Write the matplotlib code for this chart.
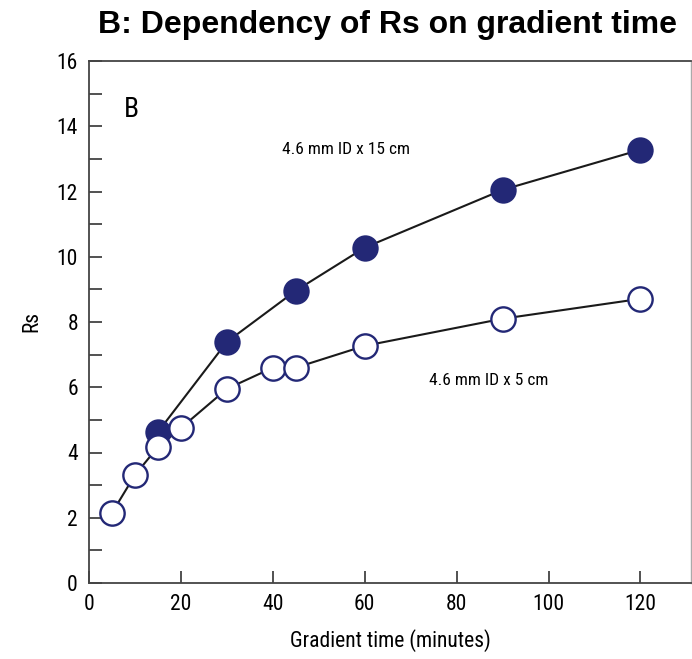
import matplotlib
matplotlib.use("Agg")
import matplotlib.pyplot as plt
from matplotlib.ticker import MultipleLocator

# resolution vs gradient time, two column lengths
t_long = [15, 30, 45, 60, 90, 120]
rs_long = [4.63, 7.39, 8.96, 10.28, 12.05, 13.28]
t_short = [5, 10, 15, 20, 30, 40, 45, 60, 90, 120]
rs_short = [2.15, 3.31, 4.17, 4.75, 5.95, 6.6, 6.6, 7.27, 8.1, 8.71]

navy = "#232876"
narrow = ["Liberation Sans Narrow", "DejaVu Sans Condensed", "Roboto Condensed",
          "Noto Sans Condensed", "Liberation Sans"]

fig = plt.figure(figsize=(6.92, 6.59), dpi=100)
ax = fig.add_axes([89 / 692, 1 - 583 / 659, 602 / 692, 522 / 659])

ax.plot(t_long, rs_long, "-", color="#1a1a1a", lw=1.5, zorder=2)
ax.plot(t_long, rs_long, "o", ms=17.5, mfc=navy, mec=navy, mew=1.5, zorder=3)
ax.plot(t_short, rs_short, "-", color="#1a1a1a", lw=1.5, zorder=2)
ax.plot(t_short, rs_short, "o", ms=17.5, mfc="white", mec=navy, mew=1.7, zorder=3)

ax.set_xlim(0, 131)
ax.set_ylim(0, 16)
ax.xaxis.set_major_locator(MultipleLocator(20))
ax.yaxis.set_major_locator(MultipleLocator(2))
ax.yaxis.set_minor_locator(MultipleLocator(1))
ax.tick_params(which="both", direction="in", color="#333333", width=1.2,
               labelsize=15.5, pad=8)
ax.tick_params(which="major", length=9)
ax.tick_params(which="minor", length=9)
for lab in ax.get_xticklabels() + ax.get_yticklabels():
    lab.set_family(narrow)

for side in ("left", "bottom", "top"):
    ax.spines[side].set_color("#444444")
    ax.spines[side].set_linewidth(1.3)
ax.spines["right"].set_color("#aaaaaa")
ax.spines["right"].set_linewidth(1)

ax.set_xlabel("Gradient time (minutes)", fontsize=15.5, family=narrow, labelpad=10)
ax.set_ylabel("Rs", fontsize=15.5, family=narrow, labelpad=10)

ax.text(7.5, 14.5, "B", fontsize=20, family=narrow, ha="left", va="center")
ax.text(42, 13.3, "4.6 mm ID x 15 cm", fontsize=12.5, family=narrow, ha="left", va="center")
ax.text(74, 6.2, "4.6 mm ID x 5 cm", fontsize=12.5, family=narrow, ha="left", va="center")

fig.text(387 / 692, 1 - 25 / 659, "B: Dependency of Rs on gradient time",
         fontsize=23, fontweight="bold", family=["Liberation Sans", "DejaVu Sans"],
         ha="center", va="center")

fig.savefig("out.png", dpi=100)
